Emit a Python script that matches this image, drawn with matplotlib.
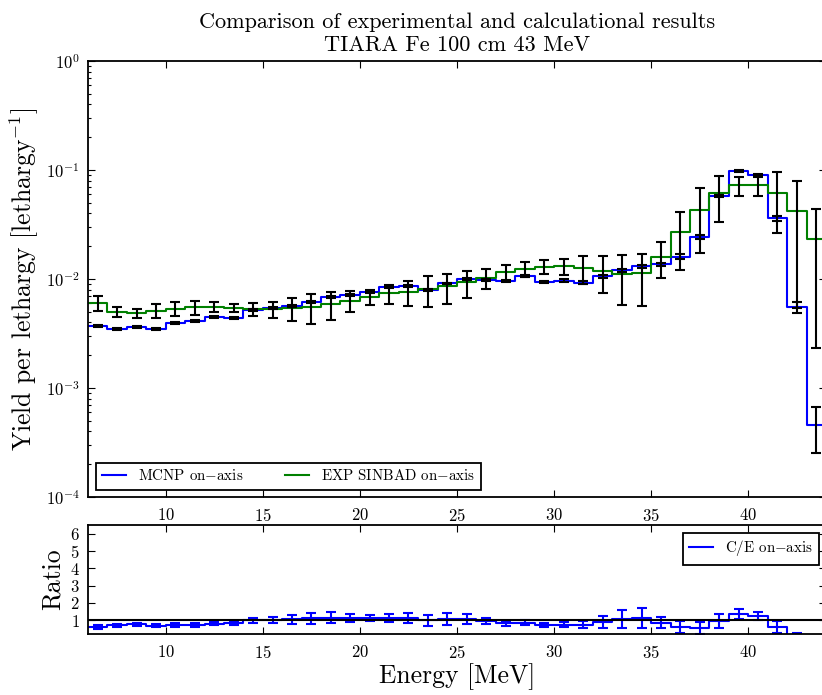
import numpy as np
import matplotlib
matplotlib.use('Agg')
import matplotlib.pyplot as plt

# 1 MeV energy bins, 6 - 44 MeV
edges = np.arange(6, 45)

# calculated spectrum (MCNP), per lethargy
mcnp = [3.73e-3, 3.50e-3, 3.65e-3, 3.50e-3, 3.95e-3, 4.09e-3, 4.45e-3, 4.42e-3, 5.24e-3,
        5.38e-3, 5.65e-3, 6.11e-3, 6.79e-3, 7.18e-3, 7.64e-3, 8.50e-3, 8.69e-3, 7.98e-3, 9.10e-3,
        1.00e-2, 9.80e-3, 9.60e-3, 1.07e-2, 9.40e-3, 9.66e-3, 9.25e-3, 1.06e-2, 1.20e-2, 1.31e-2,
        1.36e-2, 1.60e-2, 2.44e-2, 5.77e-2, 9.86e-2, 8.94e-2, 3.60e-2, 5.50e-3, 4.58e-4]
mcnp_rel = [0.02, 0.02, 0.02, 0.02, 0.02, 0.02, 0.02, 0.02, 0.02,
            0.02, 0.02, 0.02, 0.02, 0.02, 0.02, 0.02, 0.02, 0.02, 0.02,
            0.02, 0.02, 0.02, 0.02, 0.03, 0.03, 0.03, 0.03, 0.03, 0.03,
            0.04, 0.05, 0.04, 0.03, 0.02, 0.02, 0.05, 0.12, 0.45]

# measured spectrum (SINBAD), per lethargy
exp = [6.07e-3, 4.98e-3, 4.84e-3, 5.12e-3, 5.34e-3, 5.50e-3, 5.57e-3, 5.45e-3, 5.31e-3,
       5.30e-3, 5.40e-3, 5.56e-3, 5.90e-3, 6.33e-3, 6.80e-3, 7.40e-3, 7.65e-3, 8.05e-3, 8.55e-3,
       9.31e-3, 1.03e-2, 1.16e-2, 1.24e-2, 1.30e-2, 1.31e-2, 1.26e-2, 1.18e-2, 1.12e-2, 1.14e-2,
       1.60e-2, 2.68e-2, 4.30e-2, 6.11e-2, 7.23e-2, 7.23e-2, 6.11e-2, 4.21e-2, 2.31e-2]
exp_rel = [0.16, 0.10, 0.09, 0.14, 0.15, 0.15, 0.11, 0.09, 0.13,
           0.17, 0.235, 0.30, 0.29, 0.22, 0.155, 0.20, 0.26, 0.31, 0.31,
           0.275, 0.21, 0.17, 0.15, 0.14, 0.17, 0.28, 0.37, 0.48, 0.50,
           0.36, 0.55, 0.60, 0.45, 0.20, 0.20, 0.57, 0.87, 0.90]

plt.rcParams.update({
    'font.family': 'serif',
    'font.serif': ['cmr10'],
    'mathtext.fontset': 'cm',
    'axes.unicode_minus': False,
    'axes.formatter.use_mathtext': True,
    'axes.linewidth': 1.3,
    'xtick.direction': 'in', 'ytick.direction': 'in',
    'xtick.top': True, 'ytick.right': True,
    'xtick.major.size': 5, 'ytick.major.size': 5,
    'xtick.minor.size': 2.5, 'ytick.minor.size': 2.5,
    'xtick.major.width': 0.8, 'ytick.major.width': 0.8,
    'ytick.minor.width': 0.8,
    'xtick.labelsize': 12, 'ytick.labelsize': 12,
    'xtick.major.pad': 7, 'ytick.major.pad': 6,
})

edges = np.asarray(edges, dtype=float)
centers = 0.5 * (edges[:-1] + edges[1:])
mcnp = np.asarray(mcnp)
exp = np.asarray(exp)
mcnp_err = mcnp * np.asarray(mcnp_rel)
exp_err = exp * np.asarray(exp_rel)

ratio = mcnp / exp
ratio_err = ratio * np.sqrt(np.asarray(mcnp_rel) ** 2 + np.asarray(exp_rel) ** 2)

W, H = 822., 695.
fig = plt.figure(figsize=(W / 100, H / 100), dpi=100)
ax1 = fig.add_axes([88 / W, 1 - 497 / H, (826 - 88) / W, (497 - 61) / H])
ax2 = fig.add_axes([88 / W, 1 - 634 / H, (826 - 88) / W, (634 - 525) / H])

def steps(v):
    return np.append(v, v[-1])

ax1.step(edges, steps(mcnp), where='post', color='b', lw=1.5, label='MCNP on$-$axis')
ax1.step(edges, steps(exp), where='post', color='g', lw=1.5, label='EXP SINBAD on$-$axis')
ax1.errorbar(centers, mcnp, yerr=mcnp_err, fmt='none', ecolor='k', elinewidth=1.5,
             capsize=3.5, capthick=1.5)
ax1.errorbar(centers, exp, yerr=exp_err, fmt='none', ecolor='k', elinewidth=1.5,
             capsize=3.5, capthick=1.5)
ax1.set_yscale('log')
ax1.set_ylim(1e-4, 1)
ax1.set_xlim(6, 44)
ax1.set_xticks([10, 15, 20, 25, 30, 35, 40])
ax1.set_ylabel('Yield per lethargy [lethargy$^{-1}$]', fontsize=18.5, labelpad=3)
ax1.set_title('Comparison of experimental and calculational results\nTIARA Fe 100 cm 43 MeV',
              fontsize=16, pad=7, linespacing=1.25)
leg1 = ax1.legend(loc='lower left', ncol=2, fontsize=10.8, handlelength=1.6,
                  columnspacing=2.8, fancybox=False, framealpha=1, edgecolor='k')
leg1.get_frame().set_linewidth(1.3)

ax2.step(edges, steps(ratio), where='post', color='b', lw=1.5, label='C/E on$-$axis')
ax2.errorbar(centers, ratio, yerr=ratio_err, fmt='none', ecolor='b', elinewidth=1.5,
             capsize=3.5, capthick=1.5)
ax2.axhline(1.0, color='k', lw=1.5)
ax2.set_xlim(6, 44)
ax2.set_ylim(0.2, 6.5)
ax2.set_xticks([10, 15, 20, 25, 30, 35, 40])
ax2.set_yticks([1, 2, 3, 4, 5, 6])
ax2.set_ylabel('Ratio', fontsize=18.5, labelpad=4)
ax2.set_xlabel('Energy [MeV]', fontsize=18.5, labelpad=2)
leg2 = ax2.legend(loc='upper right', fontsize=10.8, handlelength=1.6, fancybox=False,
                  framealpha=1, edgecolor='k')
leg2.get_frame().set_linewidth(1.3)

fig.savefig('out.png', dpi=100)
